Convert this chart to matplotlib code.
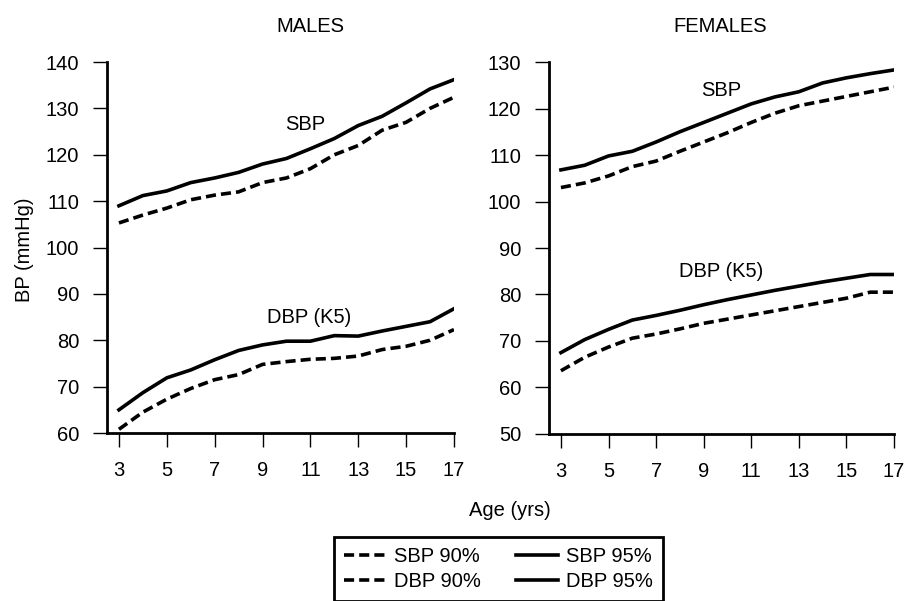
import matplotlib.pyplot as plt

plt.rcParams['font.family'] = ['Liberation Sans', 'DejaVu Sans']
plt.rcParams['font.size'] = 14.5

ages = list(range(3, 18))

male_sbp_90 = [105.3, 107, 108.5, 110.3, 111.3, 112, 114, 115, 117, 120, 122, 125.3, 127, 130, 132.4]
male_sbp_95 = [109, 111.2, 112.2, 114, 115, 116.2, 118, 119.2, 121.3, 123.5, 126.3, 128.3, 131.2, 134.2, 136.2]
male_dbp_90 = [60.8, 64.5, 67.3, 69.6, 71.5, 72.6, 74.8, 75.4, 75.9, 76.1, 76.6, 78, 78.7, 80, 82.3]
male_dbp_95 = [65, 68.7, 71.9, 73.6, 75.8, 77.8, 79, 79.8, 79.8, 81, 80.9, 82, 83, 84, 86.8]

female_sbp_90 = [103, 104, 105.5, 107.5, 108.7, 110.8, 112.8, 114.8, 117, 119, 120.6, 121.6, 122.6, 123.6, 124.6]
female_sbp_95 = [106.8, 107.8, 109.8, 110.8, 112.8, 115, 117, 119, 121, 122.5, 123.6, 125.5, 126.6, 127.5, 128.3]
female_dbp_90 = [63.6, 66.5, 68.7, 70.6, 71.5, 72.6, 73.8, 74.7, 75.6, 76.5, 77.4, 78.3, 79.2, 80.5, 80.5]
female_dbp_95 = [67.5, 70.3, 72.5, 74.5, 75.5, 76.6, 77.8, 78.9, 79.9, 80.9, 81.8, 82.7, 83.5, 84.3, 84.3]

xticks = [3, 5, 7, 9, 11, 13, 15, 17]

fig = plt.figure(figsize=(9.09, 6.01), dpi=100)
ax_m = fig.add_axes([0.1177, 0.2795, 0.3817, 0.6173])
ax_f = fig.add_axes([0.604, 0.2779, 0.3795, 0.6189])

dash = (2.8, 1.4)
lw = 2.6

for ax, s90, s95, d90, d95 in [(ax_m, male_sbp_90, male_sbp_95, male_dbp_90, male_dbp_95),
                               (ax_f, female_sbp_90, female_sbp_95, female_dbp_90, female_dbp_95)]:
    l1, = ax.plot(ages, s90, color='black', lw=lw, dashes=dash)
    l2, = ax.plot(ages, d90, color='black', lw=lw, dashes=dash)
    l3, = ax.plot(ages, s95, color='black', lw=lw)
    l4, = ax.plot(ages, d95, color='black', lw=lw)
    ax.set_xlim(2.5, 17)
    ax.set_xticks(xticks)
    for side in ['top', 'right']:
        ax.spines[side].set_visible(False)
    for side in ['left', 'bottom']:
        ax.spines[side].set_linewidth(2)
    ax.tick_params(direction='out', length=10, width=1, pad=10, labelsize=14.5)

ax_m.set_ylim(60, 140)
ax_m.set_yticks(range(60, 141, 10))
ax_f.set_ylim(50, 130)
ax_f.set_yticks(range(50, 131, 10))

ax_m.text(10.77, 126.6, 'SBP', ha='center', va='center')
ax_m.text(10.94, 84.9, 'DBP (K5)', ha='center', va='center')
ax_f.text(9.75, 123.8, 'SBP', ha='center', va='center')
ax_f.text(9.75, 84.9, 'DBP (K5)', ha='center', va='center')

fig.text(310 / 909, 1 - 26 / 601, 'MALES', ha='center', va='center')
fig.text(720 / 909, 1 - 26 / 601, 'FEMALES', ha='center', va='center')
fig.text(510 / 909, 1 - 510 / 601, 'Age (yrs)', ha='center', va='center')
fig.text(24 / 909, 1 - 250 / 601, 'BP (mmHg)', ha='center', va='center', rotation=90)

leg = fig.legend([l1, l2, l3, l4], ['SBP 90%', 'DBP 90%', 'SBP 95%', 'DBP 95%'],
                 ncol=2, loc='upper left', bbox_to_anchor=(334 / 909, 1 - 537 / 601),
                 frameon=True, fancybox=False, edgecolor='black', framealpha=1,
                 fontsize=14.5, handlelength=2.1, columnspacing=1.7, labelspacing=0.3,
                 borderpad=0.5, handletextpad=0.4, borderaxespad=0)
leg.get_frame().set_linewidth(2)

fig.savefig('out.png', dpi=100)
